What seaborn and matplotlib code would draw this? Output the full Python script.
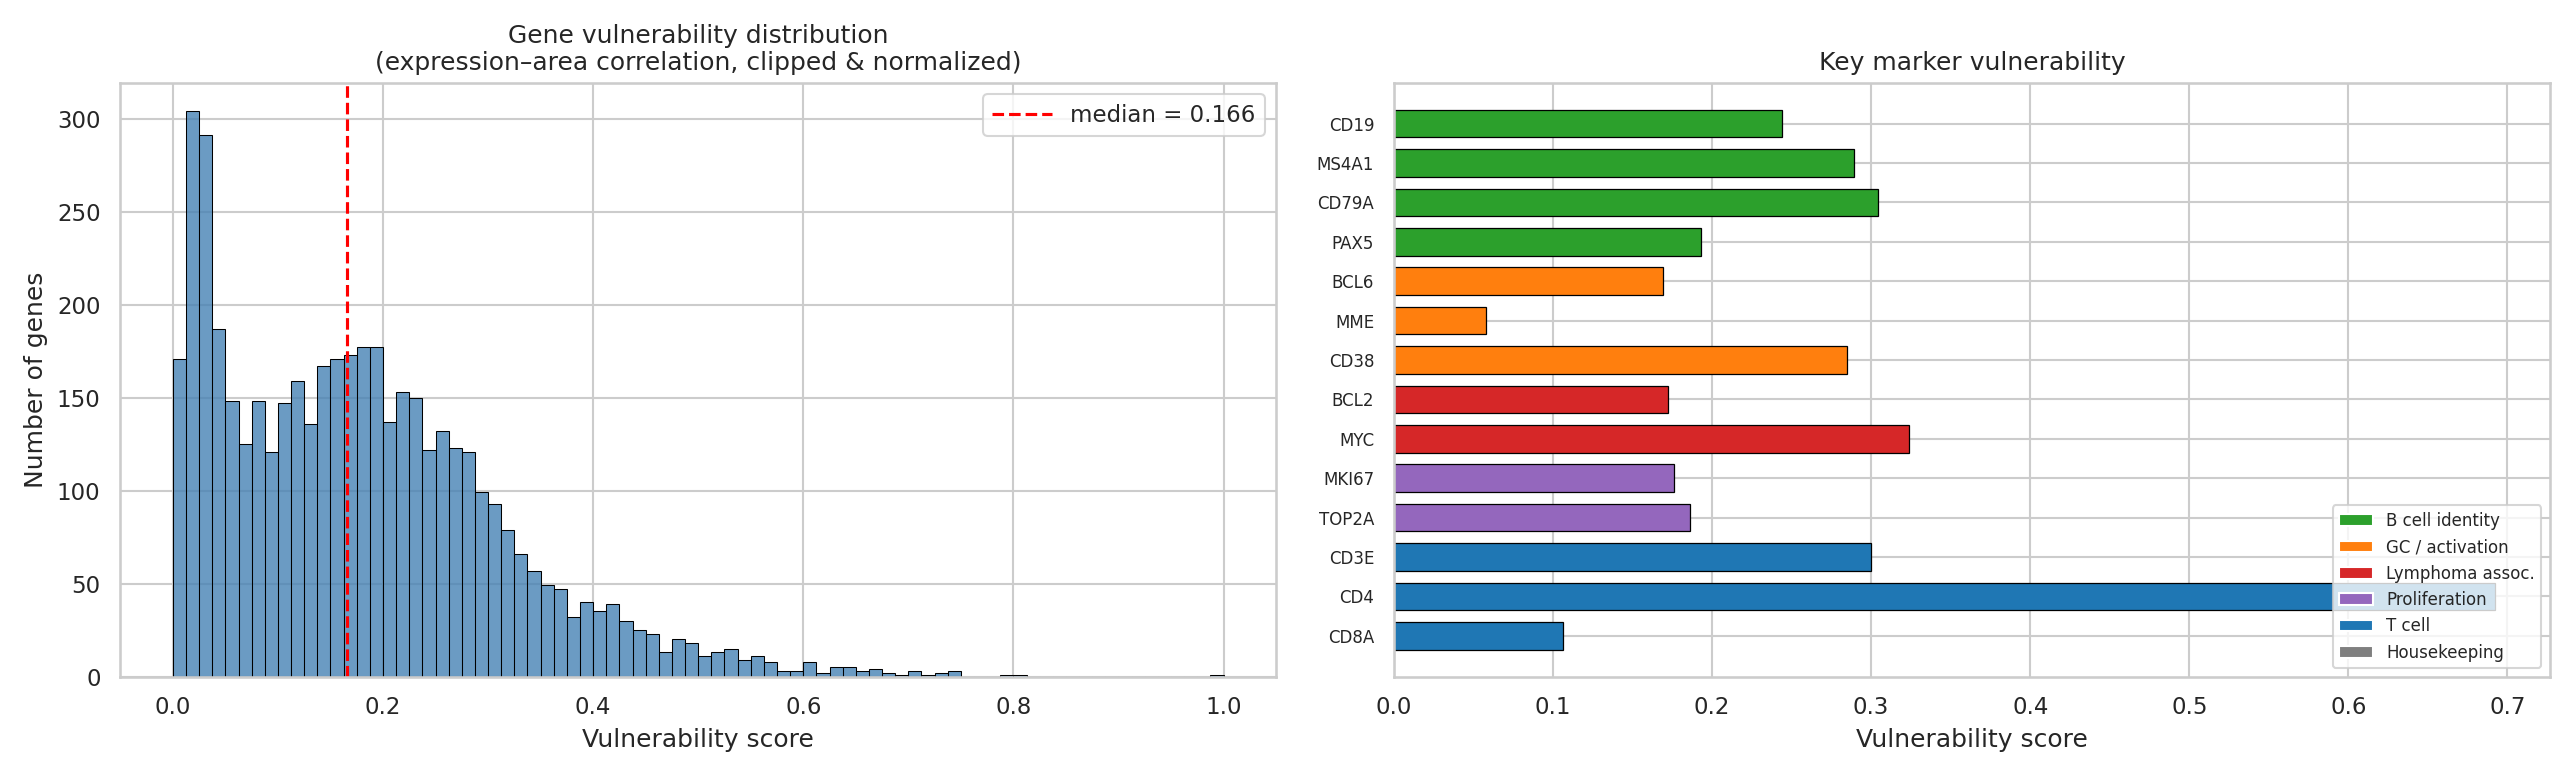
import matplotlib
matplotlib.use("Agg")
import matplotlib.pyplot as plt
from matplotlib.patches import Patch
import seaborn as sns
import numpy as np

# Histogram counts per bin (80 bins over 0..1)
bin_counts = [171, 304, 291, 187, 148, 125, 148, 121, 147, 159,
              136, 167, 171, 173, 177, 177, 137, 153, 150, 122,
              132, 123, 121, 99, 93, 79, 66, 57, 49, 47,
              32, 40, 35, 39, 30, 25, 23, 13, 20, 18,
              11, 13, 15, 9, 11, 8, 3, 3, 8, 2,
              5, 5, 3, 4, 2, 1, 3, 1, 2, 3,
              0, 0, 0, 1, 1, 0, 0, 0, 0, 0,
              0, 0, 0, 0, 0, 0, 0, 0, 0, 1]
median_score = 0.166

# Key markers
genes = ['CD19', 'MS4A1', 'CD79A', 'PAX5', 'BCL6', 'MME', 'CD38',
         'BCL2', 'MYC', 'MKI67', 'TOP2A', 'CD3E', 'CD4', 'CD8A']
scores = [0.244, 0.289, 0.304, 0.193, 0.169, 0.058, 0.285,
          0.172, 0.324, 0.176, 0.186, 0.300, 0.692, 0.106]
groups = ['B cell identity'] * 4 + ['GC / activation'] * 3 + ['Lymphoma assoc.'] * 2 \
    + ['Proliferation'] * 2 + ['T cell'] * 3
group_names = ['B cell identity', 'GC / activation', 'Lymphoma assoc.',
               'Proliferation', 'T cell', 'Housekeeping']
group_colors = ['tab:green', 'tab:orange', 'tab:red', 'tab:purple', 'tab:blue', 'tab:gray']

sns.set_theme(style='whitegrid')
plt.rcParams['font.family'] = ['DejaVu Sans']

fig, (ax1, ax2) = plt.subplots(1, 2, figsize=(2560 / 150, 775 / 150), dpi=150)
fig.subplots_adjust(left=0.047, right=0.996, top=0.893, bottom=0.127, wspace=0.102)

# Left: distribution of vulnerability scores
n_bins = len(bin_counts)
centers = (np.arange(n_bins) + 0.5) / n_bins
sns.histplot(x=centers, weights=bin_counts, bins=n_bins, binrange=(0, 1),
             color='steelblue', alpha=0.8, edgecolor='black', linewidth=0.5, ax=ax1)
ax1.axvline(median_score, color='red', linestyle='--', linewidth=1.5,
            label=f'median = {median_score:.3f}')
ax1.set_title('Gene vulnerability distribution\n(expression\u2013area correlation, clipped & normalized)')
ax1.set_xlabel('Vulnerability score')
ax1.set_ylabel('Number of genes')
ax1.legend(loc='upper right', handlelength=2.6)

# Right: key marker bars
color_of = dict(zip(group_names, group_colors))
bar_colors = [color_of[g] for g in groups]
sns.barplot(x=scores, y=genes, hue=genes, palette=bar_colors, legend=False,
            orient='h', width=0.7, saturation=1, edgecolor='black', linewidth=0.6, ax=ax2)
ax2.yaxis.grid(True)
ax2.set_axisbelow(True)
ax2.set_ylim(len(genes) - 1 + 1.035, -1.035)
ax2.set_xlim(left=0)
ax2.tick_params(axis='y', labelsize=8)
ax2.set_title('Key marker vulnerability')
ax2.set_xlabel('Vulnerability score')
ax2.set_ylabel('')
handles = [Patch(facecolor=c, label=n) for n, c in zip(group_names, group_colors)]
ax2.legend(handles=handles, loc='lower right', fontsize=8)

plt.savefig('out.png', dpi=150)
